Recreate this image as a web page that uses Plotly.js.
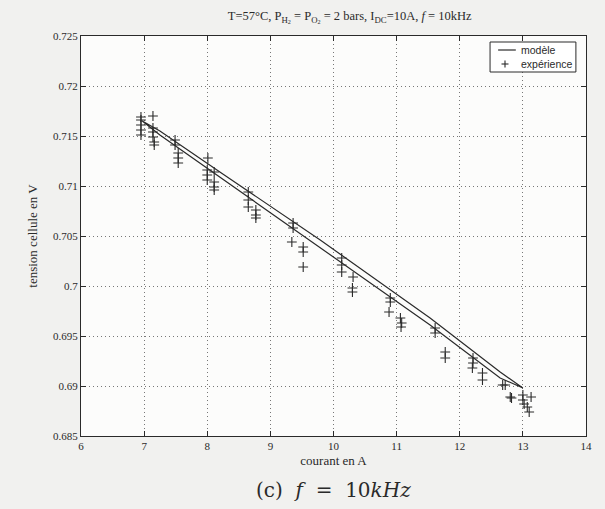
<!DOCTYPE html>
<html>
<head>
<meta charset="utf-8">
<script src="https://cdn.plot.ly/plotly-3.0.1.min.js"></script>
<style>html,body{margin:0;padding:0;background:#f1f1ef;}</style>
</head>
<body>
<div id="chart" style="width:605px;height:509px;"></div>
<script>
// model curve (upper branch then lower branch back)
const modelUpperX = [6.97, 7.25, 8.2, 9.79, 11.53, 12.64, 13.0];
const modelUpperY = [0.7165, 0.7155, 0.7114, 0.7046, 0.6968, 0.6914, 0.6898];
const modelLowerX = [13.0, 12.64, 11.53, 9.79, 8.2, 7.25, 6.97];
const modelLowerY = [0.6898, 0.6908, 0.6961, 0.7038, 0.7109, 0.7151, 0.7165];

// experimental points
const expX = [6.95,6.95,6.95,6.95,6.95,
  7.14,7.14,7.14,7.14,7.16,7.16,
  7.49,7.49,7.54,7.54,7.54,
  8.01,8.0,8.0,8.0,8.11,8.11,8.11,8.11,
  8.65,8.65,8.65,8.77,8.77,8.77,
  9.36,9.36,9.34,9.52,9.52,9.52,
  10.13,10.13,10.13,10.31,10.3,10.3,
  10.9,10.9,10.88,11.06,11.08,11.07,
  11.61,11.61,11.77,11.77,
  12.21,12.21,12.2,12.36,12.36,
  12.68,12.72,12.8,12.82,
  13.0,13.0,13.02,13.07,13.1,13.13];
const expY = [0.7169,0.7166,0.7161,0.7156,0.7151,
  0.7170,0.7158,0.7154,0.7149,0.7144,0.7141,
  0.7146,0.7141,0.7133,0.7128,0.7123,
  0.7128,0.7116,0.7111,0.7106,0.7114,0.7104,0.7099,0.7096,
  0.7094,0.7086,0.7079,0.7076,0.7071,0.7068,
  0.7063,0.7058,0.7044,0.7039,0.7034,0.7019,
  0.7028,0.7021,0.7014,0.7009,0.6998,0.6994,
  0.6988,0.6984,0.6974,0.6968,0.6963,0.6959,
  0.6958,0.6953,0.6934,0.6928,
  0.6928,0.6923,0.6918,0.6913,0.6906,
  0.6901,0.6901,0.6889,0.6888,
  0.6891,0.6886,0.6882,0.6879,0.6874,0.6889];

const xTicks = [6,7,8,9,10,11,12,13,14];
const yTicks = [0.685,0.69,0.695,0.7,0.705,0.71,0.715,0.72,0.725];
const yTickText = ["0.685","0.69","0.695","0.7","0.705","0.71","0.715","0.72","0.725"];
const legendNames = ["modèle", "expérience"];

const serif = "Liberation Serif, Times New Roman, serif";
const sans = "Liberation Sans, Arial, sans-serif";
const ink = "#2a2a2a";

const traces = [
  {
    x: modelUpperX.concat(modelLowerX),
    y: modelUpperY.concat(modelLowerY),
    mode: "lines",
    name: legendNames[0],
    line: {color: ink, width: 1.2},
    hoverinfo: "skip"
  },
  {
    x: expX, y: expY,
    mode: "markers",
    name: legendNames[1],
    marker: {symbol: "cross-thin", size: 7, line: {color: ink, width: 1.1}, color: ink}
  }
];

const axisCommon = {
  showline: true, linecolor: ink, linewidth: 1, mirror: "ticks",
  ticks: "inside", ticklen: 5, tickcolor: ink,
  showgrid: true, gridcolor: "#777", griddash: "1px,3px", gridwidth: 1,
  zeroline: false,
  tickfont: {family: serif, size: 11, color: ink}
};

// compact MATLAB-style legend box (paper coordinates)
const lgX0 = 0.810, lgX1 = 0.980, lgY0 = 0.910, lgY1 = 0.985;
const row1 = 0.965, row2 = 0.930;
const plusX = 0.8396, plusDX = 3.5 / 505, plusDY = 3.5 / 400;

const layout = {
  width: 605, height: 509,
  margin: {l: 81, r: 19, t: 36, b: 73},
  paper_bgcolor: "#f1f1ef",
  plot_bgcolor: "#fcfcfb",
  showlegend: false,
  title: {
    text: "T=57°C, P<sub>H<sub>2</sub></sub> = P<sub>O<sub>2</sub></sub> = 2 bars, I<sub>DC</sub>=10A, <i>f</i> = 10kHz",
    font: {family: serif, size: 12.5, color: ink},
    x: 0.578, xanchor: "center", y: 0.978, yanchor: "top"
  },
  xaxis: Object.assign({}, axisCommon, {
    range: [6, 14], tickvals: xTicks,
    title: {text: "courant en A", font: {family: serif, size: 13, color: ink}, standoff: 4}
  }),
  yaxis: Object.assign({}, axisCommon, {
    range: [0.685, 0.725], tickvals: yTicks, ticktext: yTickText,
    title: {text: "tension cellule en V", font: {family: serif, size: 13, color: ink}, standoff: 12}
  }),
  shapes: [
    {type: "rect", xref: "paper", yref: "paper", x0: lgX0, x1: lgX1, y0: lgY0, y1: lgY1,
     fillcolor: "#ffffff", line: {color: ink, width: 1}, layer: "above"},
    {type: "line", xref: "paper", yref: "paper", x0: 0.826, x1: 0.861, y0: row1, y1: row1,
     line: {color: ink, width: 1.2}, layer: "above"},
    {type: "line", xref: "paper", yref: "paper", x0: plusX - plusDX, x1: plusX + plusDX, y0: row2, y1: row2,
     line: {color: ink, width: 1.1}, layer: "above"},
    {type: "line", xref: "paper", yref: "paper", x0: plusX, x1: plusX, y0: row2 - plusDY, y1: row2 + plusDY,
     line: {color: ink, width: 1.1}, layer: "above"}
  ],
  annotations: [
    {text: legendNames[0], xref: "paper", yref: "paper", x: 0.868, y: row1, xanchor: "left", yanchor: "middle",
     showarrow: false, font: {family: sans, size: 10.5, color: ink}},
    {text: legendNames[1], xref: "paper", yref: "paper", x: 0.868, y: row2, xanchor: "left", yanchor: "middle",
     showarrow: false, font: {family: sans, size: 10.5, color: ink}},
    {text: "(c)&nbsp;&nbsp;<i>f</i>&nbsp;&nbsp;=&nbsp;&nbsp;10<i>kHz</i>",
     xref: "paper", yref: "paper", x: 0.5, y: -0.135, xanchor: "center", yanchor: "middle",
     showarrow: false, font: {family: "DejaVu Serif, serif", size: 20, color: ink}}
  ]
};

Plotly.newPlot("chart", traces, layout, {displayModeBar: false, staticPlot: true});
</script>
</body>
</html>
